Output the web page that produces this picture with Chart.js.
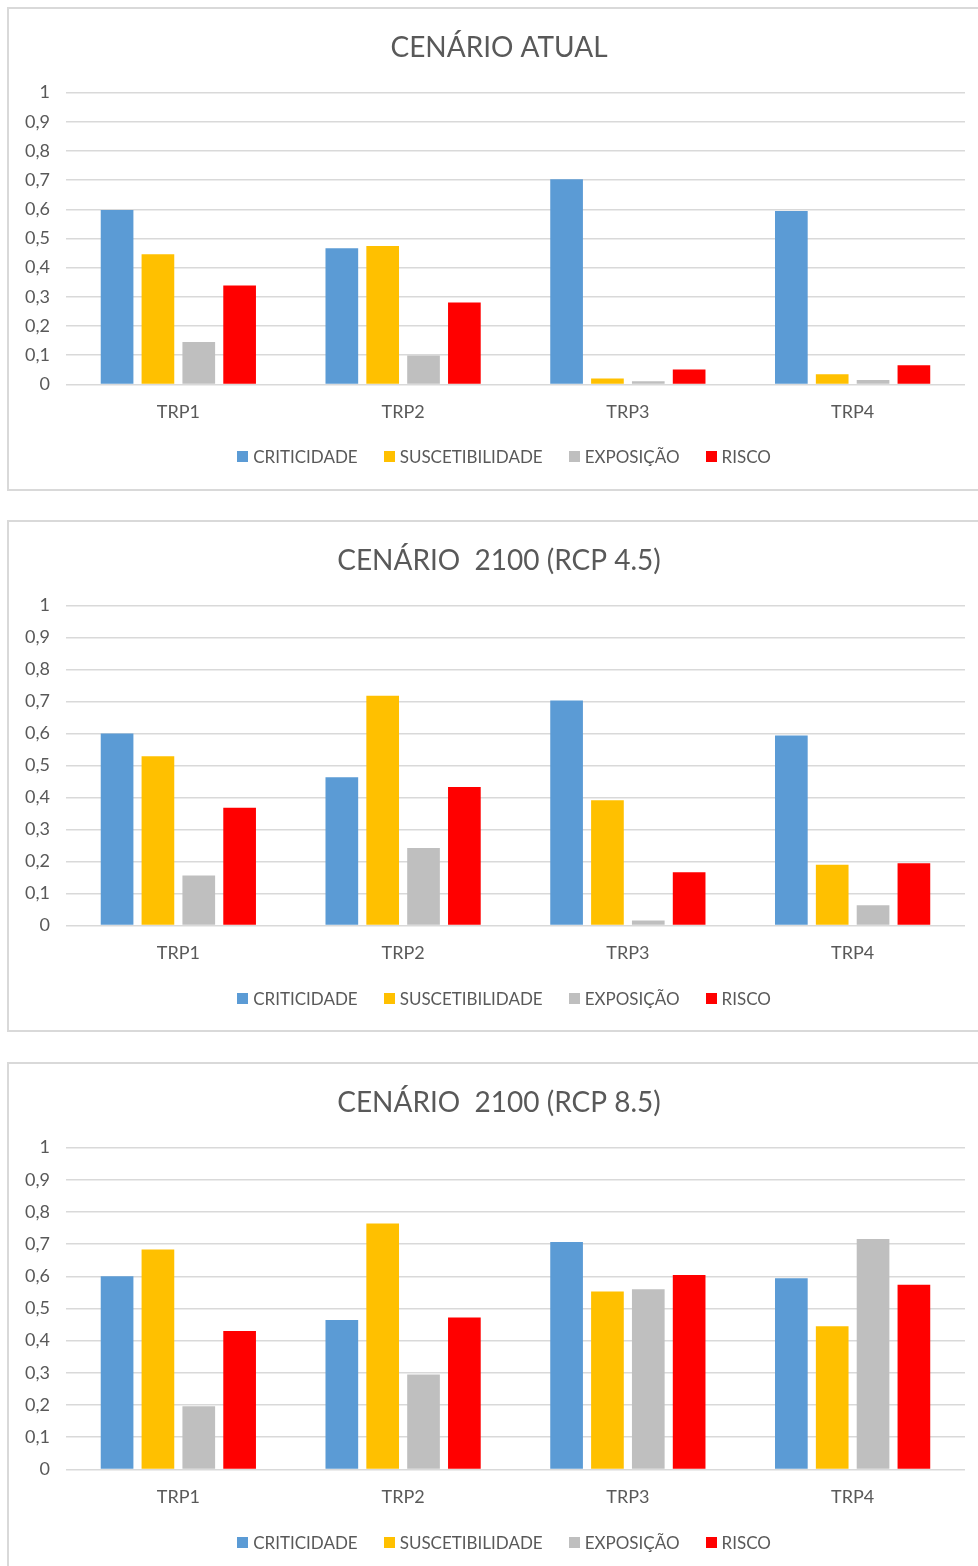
<!DOCTYPE html>
<html lang="pt">
<head>
<meta charset="utf-8">
<title>Cenários de risco</title>
<script src="https://cdn.jsdelivr.net/npm/chart.js@4.4.1/dist/chart.umd.min.js"></script>
<style>
  html, body { margin: 0; padding: 0; background: #fff; }
  body { width: 978px; height: 1566px; overflow: hidden; position: relative; }
  .box {
    position: absolute; left: 7px; width: 1000px;
    border: 2px solid #d9d9d9; box-sizing: border-box; background: #fff;
  }
  .box canvas { position: absolute; left: 0; top: 0; }
  .legend {
    position: absolute; left: 5px; width: 980px; height: 22px;
    display: flex; justify-content: center; align-items: center;
    font: 17px Lato, "Open Sans", sans-serif; color: #595959;
  }
  .legend span.item { display: flex; align-items: center; margin: 0 13px; }
  .legend i { display: inline-block; width: 11px; height: 11px; margin-right: 5px; }
</style>
</head>
<body>
<div class="box" style="top:7px;height:484px">
  <canvas id="chartAtual" width="980" height="480"></canvas>
  <div class="legend" style="top:436px"></div>
</div>
<div class="box" style="top:520px;height:512px">
  <canvas id="chart45" width="980" height="508"></canvas>
  <div class="legend" style="top:465px"></div>
</div>
<div class="box" style="top:1062px;height:520px">
  <canvas id="chart85" width="980" height="510"></canvas>
  <div class="legend" style="top:467px"></div>
</div>

<script>
// categorias e séries
const categories = ['TRP1', 'TRP2', 'TRP3', 'TRP4'];
const seriesNames = ['CRITICIDADE', 'SUSCETIBILIDADE', 'EXPOSIÇÃO', 'RISCO'];
const seriesColors = ['#5B9BD5', '#FFC000', '#BFBFBF', '#FF0000'];
const yTicks = [0, 0.1, 0.2, 0.3, 0.4, 0.5, 0.6, 0.7, 0.8, 0.9, 1];

// cenário atual
const atualCriticidade     = [0.598, 0.467, 0.703, 0.594];
const atualSuscetibilidade = [0.446, 0.474, 0.020, 0.035];
const atualExposicao       = [0.145, 0.099, 0.011, 0.015];
const atualRisco           = [0.339, 0.281, 0.051, 0.066];

// cenário 2100 (RCP 4.5)
const rcp45Criticidade     = [0.600, 0.463, 0.703, 0.594];
const rcp45Suscetibilidade = [0.529, 0.718, 0.391, 0.190];
const rcp45Exposicao       = [0.156, 0.242, 0.015, 0.063];
const rcp45Risco           = [0.368, 0.433, 0.166, 0.194];

// cenário 2100 (RCP 8.5)
const rcp85Criticidade     = [0.600, 0.464, 0.707, 0.594];
const rcp85Suscetibilidade = [0.683, 0.764, 0.553, 0.445];
const rcp85Exposicao       = [0.196, 0.295, 0.560, 0.716];
const rcp85Risco           = [0.430, 0.472, 0.604, 0.574];

const FONT = 'Lato, "Open Sans", sans-serif';
const TEXT = '#595959';

function fmtTick(v) {
  if (v === 0 || v === 1) return String(v);
  return v.toFixed(1).replace('.', ',');
}

// legenda em HTML, abaixo de cada gráfico
function buildLegend(el) {
  seriesNames.forEach((name, i) => {
    const item = document.createElement('span');
    item.className = 'item';
    const sw = document.createElement('i');
    sw.style.background = seriesColors[i];
    item.appendChild(sw);
    item.appendChild(document.createTextNode(name));
    el.appendChild(item);
  });
}
document.querySelectorAll('.legend').forEach(buildLegend);

function makeChart(id, title, series) {
  new Chart(document.getElementById(id).getContext('2d'), {
    type: 'bar',
    data: {
      labels: categories,
      datasets: series.map((d, i) => ({
        label: seriesNames[i],
        data: d,
        backgroundColor: seriesColors[i],
        borderWidth: 0,
        categoryPercentage: 0.727,
        barPercentage: 0.8
      }))
    },
    options: {
      responsive: false,
      animation: false,
      devicePixelRatio: 1,
      layout: { padding: { left: 0, right: 0, top: 0, bottom: 57 } },
      plugins: {
        title: {
          display: true,
          text: title,
          color: TEXT,
          font: { family: FONT, size: 28, weight: 'normal' },
          padding: { top: 22, bottom: 28 }
        },
        legend: { display: false },
        tooltip: { enabled: false }
      },
      scales: {
        x: {
          grid: { display: false },
          border: { display: false },
          ticks: { color: TEXT, font: { family: FONT, size: 18 }, padding: 9 }
        },
        y: {
          min: 0,
          max: 1,
          afterBuildTicks: axis => { axis.ticks = yTicks.map(v => ({ value: v })); },
          grid: { color: '#d9d9d9', lineWidth: 1.5, drawTicks: false },
          border: { display: false },
          ticks: {
            color: TEXT,
            font: { family: FONT, size: 18 },
            padding: 16,
            callback: v => fmtTick(v)
          }
        },
        // margem direita vazia, para o título ficar centrado no quadro
        yRight: {
          position: 'right',
          min: 0,
          max: 1,
          grid: { display: false },
          border: { display: false },
          ticks: { display: false },
          afterFit: axis => { axis.width = 24; }
        }
      }
    }
  });
}

makeChart('chartAtual', 'CENÁRIO ATUAL',
  [atualCriticidade, atualSuscetibilidade, atualExposicao, atualRisco]);
makeChart('chart45', 'CENÁRIO  2100 (RCP 4.5)',
  [rcp45Criticidade, rcp45Suscetibilidade, rcp45Exposicao, rcp45Risco]);
makeChart('chart85', 'CENÁRIO  2100 (RCP 8.5)',
  [rcp85Criticidade, rcp85Suscetibilidade, rcp85Exposicao, rcp85Risco]);
</script>
</body>
</html>
